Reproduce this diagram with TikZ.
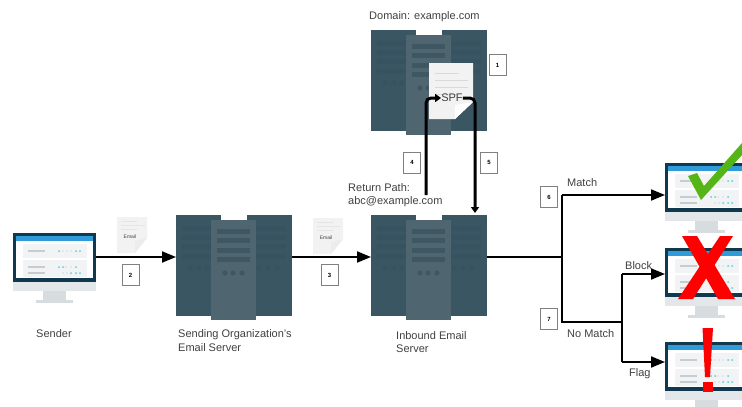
\documentclass[tikz,border=0pt]{standalone}
\usepackage{fontspec}
\setmainfont{Liberation Sans}
\usetikzlibrary{arrows.meta}
\definecolor{srvside}{HTML}{3A5663}
\definecolor{srvmid}{HTML}{4F6670}
\definecolor{srvsidebar}{HTML}{375260}
\definecolor{srvmidbar}{HTML}{3F5762}
\definecolor{scrdark}{HTML}{10384F}
\definecolor{scrblue}{HTML}{2F9BD8}
\definecolor{bezel}{HTML}{E3E7E9}
\definecolor{stand}{HTML}{D7DDDF}
\definecolor{cardbg}{HTML}{F1F3F4}
\definecolor{cardbar}{HTML}{C6CDD0}
\definecolor{dotcyan}{HTML}{58D2DE}
\definecolor{dotpale}{HTML}{D5DBDD}
\definecolor{labelgray}{HTML}{404040}
\definecolor{docgray}{HTML}{F2F2F2}
\definecolor{okgreen}{HTML}{55B516}
\tikzset{
  flow/.style={line width=2pt,-{Triangle[length=14pt,width=11pt]}},
  thickflow/.style={line width=3pt,rounded corners=5pt,-{Triangle[length=6pt,width=8pt]}},
  numbox/.style={draw=gray,line width=0.8pt,fill=white,minimum width=17pt,minimum height=21pt,inner sep=0pt,font=\fontsize{6}{7}\selectfont\bfseries},
  lbl/.style={anchor=west,align=left,inner sep=0pt,text=labelgray,font=\fontsize{11}{13.5}\selectfont},
  pics/server/.style={code={
    \node[minimum width=115.5pt,minimum height=101pt,inner sep=0pt,outer sep=0pt] (-box) at (57.75,50.5) {};
    \fill[srvside] (0,0) rectangle (45,101);
    \fill[srvside] (71,0) rectangle (115.5,101);
    \foreach \y in {11,20,29,39} {
      \fill[srvsidebar] (6,\y) rectangle (35,\y+4.5);
      \fill[srvsidebar] (80,\y) rectangle (110,\y+4.5);
    }
    \foreach \x in {14,23,31,83,92,101}
      \fill[srvsidebar] (\x,53) circle (2.6);
    \fill[srvmid] (35,5) rectangle (80,105);
    \foreach \y in {14,23,33,42}
      \fill[srvmidbar] (41,\y) rectangle (74,\y+4.5);
    \foreach \x in {49,57,66}
      \fill[srvmidbar] (\x,58) circle (2.6);
  }},
  pics/monitor/.style={code={
    \node[minimum width=83pt,minimum height=49pt,inner sep=0pt,outer sep=0pt] (-box) at (41.5,24.5) {};
    \fill[stand] (30,58) rectangle (53,68);
    \fill[stand] (23,67) rectangle (60,70);
    \fill[bezel] (0,49) rectangle (83,58);
    \fill[scrdark] (0,0) rectangle (83,49);
    \fill[white] (3,3) rectangle (80,45);
    \fill[scrblue] (3,3) rectangle (80,8);
    \fill[cardbg] (10,11) rectangle (74,25);
    \fill[cardbg] (10,27) rectangle (74,44);
    \fill[cardbar] (15,17) rectangle (32,19);
    \fill[cardbar] (15,33) rectangle (32,35);
    \fill[cardbar] (15,39) rectangle (32,41);
    \foreach \x/\y in {50/18,54/18,58/18,53/34,58/34,50/40,54/40}
      \fill[dotpale] (\x,\y) circle (0.9);
    \foreach \x/\y in {46/18,63/18,67/18,46/34,50/34,63/34,58/40,63/40,67/40}
      \fill[dotcyan] (\x,\y) circle (1);
  }},
  pics/emaildoc/.style={code={
    \fill[docgray] (0,0) -- (30,0) -- (30,21) -- (18,36) -- (0,36) -- cycle;
    \fill[white!85!gray] (30,21) -- (18,24) -- (18,36) -- cycle;
    \foreach \y/\w in {4/16,8/24,12/16}
      \fill[gray!20] (4,\y) rectangle (4+\w,\y+1);
    \node[inner sep=0pt,text=labelgray,font=\fontsize{5}{6}\selectfont] (-txt) at (13,20) {Email};
  }},
  pics/spfdoc/.style={code={
    \fill[docgray] (0,0) -- (44,0) -- (44,39) -- (26,56) -- (0,56) -- cycle;
    \fill[white] (44,39) -- (26,42) -- (26,56) -- cycle;
    \foreach \y/\w in {10/24,17/33,24/33,31/24}
      \fill[gray!30] (6,\y) rectangle (6+\w,\y+1);
    \node[inner sep=0pt,text=labelgray,font=\fontsize{11}{13}\selectfont] (-txt) at (23,35) {SPF};
  }}
}
\begin{document}
\begin{tikzpicture}[x=1pt,y=-1pt]
\useasboundingbox (0,0) rectangle (742,407);

\pic (sender) at (13,233) {monitor};
\pic (sendsrv) at (176,215) {server};
\pic (inbound) at (371,215) {server};
\pic (domainsrv) at (371,30) {server};
\pic (matchmon) at (665,163) {monitor};
\pic (blockmon) at (665,248) {monitor};
\pic (flagmon) at (665,342) {monitor};

\pic (mailone) at (117,217) {emaildoc};
\pic (mailtwo) at (313,218) {emaildoc};
\pic (spf) at (429,63) {spfdoc};

\coordinate (split) at (562,257);
\coordinate (matchturn) at (562,195);
\coordinate (nomatch) at (562,322);
\coordinate (flagsplit) at (622,322);
\coordinate (blockturn) at (622,274);
\coordinate (flagturn) at (622,362);
\coordinate (rptap) at (426,195);
\coordinate (inboundtap) at (475,213);

\draw[flow] (sender-box.east |- 0,257) -- (sendsrv-box.west |- 0,257);
\draw[flow] (sendsrv-box.east |- 0,257) -- (inbound-box.west |- 0,257);
\draw[line width=2pt] (inbound-box.east |- split) -- (split);
\draw[line width=2pt] (matchturn) -- (nomatch) -- (flagsplit);
\draw[line width=2pt] (blockturn) -- (flagturn);
\draw[flow] (matchturn) -- (matchturn -| matchmon-box.west);
\draw[flow] (blockturn) -- (blockturn -| blockmon-box.west);
\draw[flow] (flagturn) -- (flagturn -| flagmon-box.west);
\draw[thickflow] (rptap) |- (spf-txt.west);
\draw[thickflow] (spf-txt.east) -| (inboundtap);

% verdict marks over the screens
\fill[okgreen] (688,176) -- (697,173) -- (704,186) -- (742,143) -- (742,155) -- (701,200) -- cycle;
\fill[red] (682,236) -- (697,236) -- (735,299) -- (718,299) -- cycle;
\fill[red] (733,236) -- (720,236) -- (678,299) -- (693,299) -- cycle;
\fill[red] (702.5,328) -- (713,328) -- (710,377) -- (705,377) -- cycle;
\fill[red] (703,382) rectangle (713,392);

\node[numbox] (one) at (497.5,65) {1};
\node[numbox] (two) at (130.5,275) {2};
\node[numbox] (three) at (329.5,275) {3};
\node[numbox] (four) at (412,162.5) {4};
\node[numbox] (five) at (489,162.5) {5};
\node[numbox] (six) at (549,197) {6};
\node[numbox] (seven) at (549,319) {7};

\node[lbl] (senderlbl) at (36,334) {Sender};
\node[lbl] (sendsrvlbl) at (178,340.5) {Sending Organization's\\Email Server};
\node[lbl] (inboundlbl) at (396,342) {Inbound Email\\Server};
\node[lbl] (domainlbl) at (369,17) {Domain: example.com};
\node[lbl] (returnlbl) at (348,195) {Return Path:\\abc@example.com};
\node[lbl] (matchlbl) at (567,183) {Match};
\node[lbl] (blocklbl) at (625,266) {Block};
\node[lbl] (nomatchlbl) at (567,334) {No Match};
\node[lbl] (flaglbl) at (629,374) {Flag};
\end{tikzpicture}
\end{document}
